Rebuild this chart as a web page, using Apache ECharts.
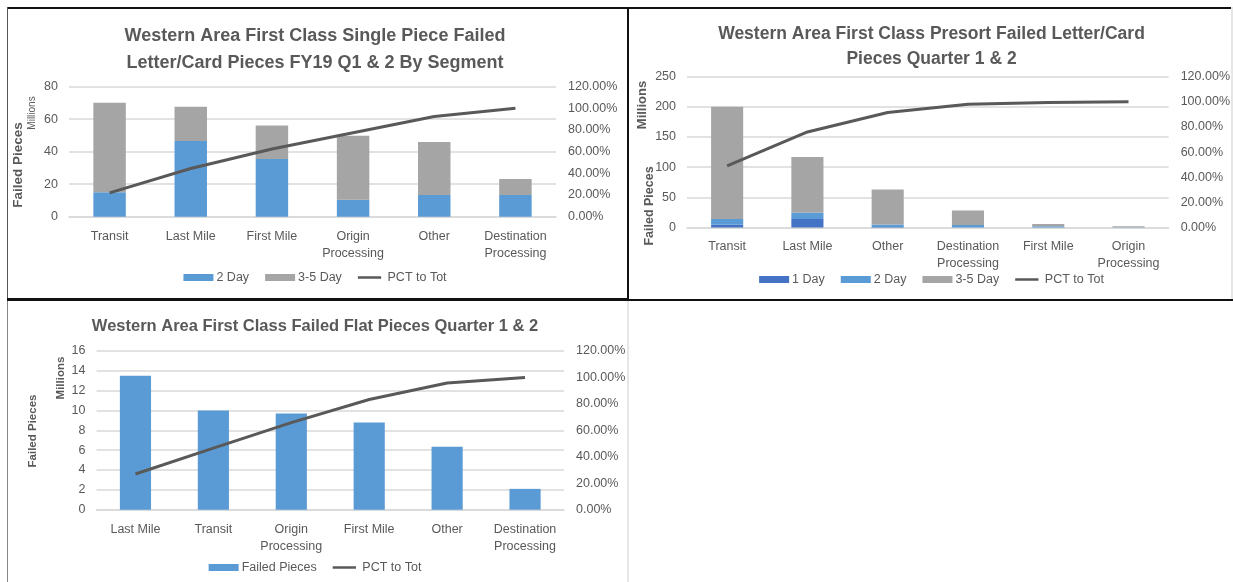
<!DOCTYPE html>
<html>
<head>
<meta charset="utf-8">
<script src="https://cdn.jsdelivr.net/npm/echarts@6/dist/echarts.min.js"></script>
<style>
html,body{margin:0;padding:0;background:#fff;width:1233px;height:582px;overflow:hidden;position:relative;}
.c{position:absolute;}
.ln{position:absolute;}
</style>
</head>
<body>
<div id="c1" class="c" style="left:0;top:0;width:630px;height:300px"></div>
<div id="c2" class="c" style="left:630px;top:0;width:603px;height:300px"></div>
<div id="c3" class="c" style="left:0;top:300px;width:630px;height:282px"></div>
<div class="ln" style="left:7px;top:7px;width:1226px;height:2px;background:#111"></div>
<div class="ln" style="left:7px;top:7px;width:1px;height:293px;background:#555"></div>
<div class="ln" style="left:627px;top:7px;width:2px;height:294px;background:#111"></div>
<div class="ln" style="left:7px;top:298px;width:622px;height:3px;background:#111"></div>
<div class="ln" style="left:628px;top:299px;width:605px;height:2px;background:#111"></div>
<div class="ln" style="left:1231px;top:7px;width:2px;height:292px;background:#e6e6e6"></div>
<div class="ln" style="left:7px;top:301px;width:1px;height:281px;background:#888"></div>
<div class="ln" style="left:627px;top:301px;width:2px;height:281px;background:#e6e6e6"></div>
<script>
// ---------- Data ----------
const cats1 = ['Transit', 'Last Mile', 'First Mile', 'Origin\nProcessing', 'Other', 'Destination\nProcessing'];
const day2_1 = [15.0, 46.6, 35.5, 10.5, 13.3, 13.3];
const day35_1 = [55.2, 21.1, 20.7, 39.3, 32.7, 9.9];
const pct1 = [22, 44.5, 62.5, 77.5, 92.5, 100];
const yTicks1 = [0, 20, 40, 60, 80];

const cats2 = ['Transit', 'Last Mile', 'Other', 'Destination\nProcessing', 'First Mile', 'Origin\nProcessing'];
const day1_2 = [4.5, 14, 1, 0.5, 0.5, 0.2];
const day2_2 = [9.5, 11, 4, 3.5, 1.5, 0.3];
const day35_2 = [186, 92, 58, 24, 4, 1.5];
const pct2 = [49, 76, 91.5, 98, 99.5, 100];
const yTicks2 = [0, 50, 100, 150, 200, 250];

const cats3 = ['Last Mile', 'Transit', 'Origin\nProcessing', 'First Mile', 'Other', 'Destination\nProcessing'];
const failed3 = [13.5, 10.0, 9.7, 8.8, 6.35, 2.1];
const pct3 = [27, 46.6, 65.8, 83.3, 95.8, 100];
const yTicks3 = [0, 2, 4, 6, 8, 10, 12, 14, 16];

const pctTicks = [0, 20, 40, 60, 80, 100, 120];

// ---------- Style ----------
const FONT = "'Liberation Sans',Arial,sans-serif";
const TXT = '#595959';
const GRID = '#D9D9D9';
const BLUE = '#5B9BD5';
const GRAY = '#A5A5A5';
const DBLUE = '#4472C4';
const LINE = '#595959';
const LINE_ICON = 'path://M0,0L30,0L30,0.01L0,0.01Z M0,3L30,3L30,6L0,6Z M0,9L30,9L30,9.01L0,9.01Z';

function vtext(x, y, text, size, weight) {
  return {type: 'text', x: x, y: y, rotation: Math.PI / 2,
    style: {text: text, fontSize: size, fontWeight: weight, fill: TXT, fontFamily: FONT, align: 'center', verticalAlign: 'middle'}};
}

function build(cfg) {
  const yt = cfg.yTicks;
  const series = cfg.bars.map(b => ({
    name: b.name, type: 'bar', stack: 's', data: b.data, barWidth: '40%',
    itemStyle: {color: b.color}, yAxisIndex: 0
  }));
  series.push({name: 'PCT to Tot', type: 'line', data: cfg.pct, yAxisIndex: 1,
    symbol: 'none', lineStyle: {color: LINE, width: 3}, itemStyle: {color: LINE}});
  const legendData = cfg.bars.map(b => ({name: b.name, icon: 'rect'}));
  legendData.push({name: 'PCT to Tot', icon: LINE_ICON, itemStyle: {color: LINE}});
  return {
    animation: false,
    textStyle: {fontFamily: FONT},
    title: {text: cfg.title, left: 'center', top: cfg.titleTop,
      textStyle: {fontSize: cfg.titleSize, fontWeight: 'bold', color: TXT, fontFamily: FONT, lineHeight: cfg.titleLH}},
    grid: cfg.grid,
    legend: {data: legendData, left: 'center', top: cfg.legendTop, itemWidth: 30, itemHeight: 7, itemGap: 16,
      textStyle: {fontSize: 12.5, color: TXT, fontFamily: FONT, padding: [0, 0, 0, -2]}},
    xAxis: {type: 'category', data: cfg.cats,
      axisLine: {lineStyle: {color: GRID, width: 1.5}}, axisTick: {show: false},
      axisLabel: {interval: 0, color: TXT, fontSize: 12.5, lineHeight: 17, margin: 11, fontFamily: FONT}},
    yAxis: [
      {type: 'value', min: yt[0], max: yt[yt.length - 1], interval: yt[1] - yt[0],
        axisLine: {show: false}, axisTick: {show: false},
        splitLine: {lineStyle: {color: GRID, width: 1.5}},
        axisLabel: {color: TXT, fontSize: 12.5, margin: 11, fontFamily: FONT}},
      {type: 'value', min: pctTicks[0], max: pctTicks[pctTicks.length - 1], interval: pctTicks[1] - pctTicks[0], position: 'right',
        axisLine: {show: false}, axisTick: {show: false}, splitLine: {show: false},
        axisLabel: {color: TXT, fontSize: 12.5, margin: 12, fontFamily: FONT, formatter: v => v.toFixed(2) + '%'}}
    ],
    series: series,
    graphic: cfg.graphic
  };
}

const ch1 = echarts.init(document.getElementById('c1'), null, {renderer: 'canvas'});
ch1.setOption(build({
  title: 'Western Area First Class Single Piece Failed\nLetter/Card Pieces FY19 Q1 & 2 By Segment',
  titleTop: 18, titleLH: 27, titleSize: 18,
  grid: {left: 69, right: 74, top: 86.7, bottom: 83.3},
  legendTop: 266,
  cats: cats1, yTicks: yTicks1, pct: pct1,
  bars: [{name: '2 Day', data: day2_1, color: BLUE}, {name: '3-5 Day', data: day35_1, color: GRAY}],
  graphic: [vtext(18, 165, 'Failed Pieces', 13.5, 'bold'), vtext(32, 113, 'Millions', 10, 'normal')]
}));

const ch2 = echarts.init(document.getElementById('c2'), null, {renderer: 'canvas'});
ch2.setOption(build({
  title: 'Western Area First Class Presort Failed Letter/Card\nPieces Quarter 1 & 2',
  titleTop: 16.5, titleLH: 25, titleSize: 17.5,
  grid: {left: 57, right: 58, top: 76.7, bottom: 72.5},
  legendTop: 268,
  cats: cats2, yTicks: yTicks2, pct: pct2,
  bars: [{name: '1 Day', data: day1_2, color: DBLUE}, {name: '2 Day', data: day2_2, color: BLUE}, {name: '3-5 Day', data: day35_2, color: GRAY}],
  graphic: [vtext(12, 105, 'Millions', 13, 'bold'), vtext(20, 206, 'Failed Pieces', 12.5, 'bold')]
}));

const ch3 = echarts.init(document.getElementById('c3'), null, {renderer: 'canvas'});
ch3.setOption(build({
  title: 'Western Area First Class Failed Flat Pieces Quarter 1 & 2',
  titleTop: 8, titleLH: 27, titleSize: 16.5,
  grid: {left: 96.5, right: 66, top: 51, bottom: 72.3},
  legendTop: 256,
  cats: cats3, yTicks: yTicks3, pct: pct3,
  bars: [{name: 'Failed Pieces', data: failed3, color: BLUE}],
  graphic: [vtext(61, 78, 'Millions', 11.5, 'bold'), vtext(33, 131, 'Failed Pieces', 11.5, 'bold')]
}));
</script>
</body>
</html>
